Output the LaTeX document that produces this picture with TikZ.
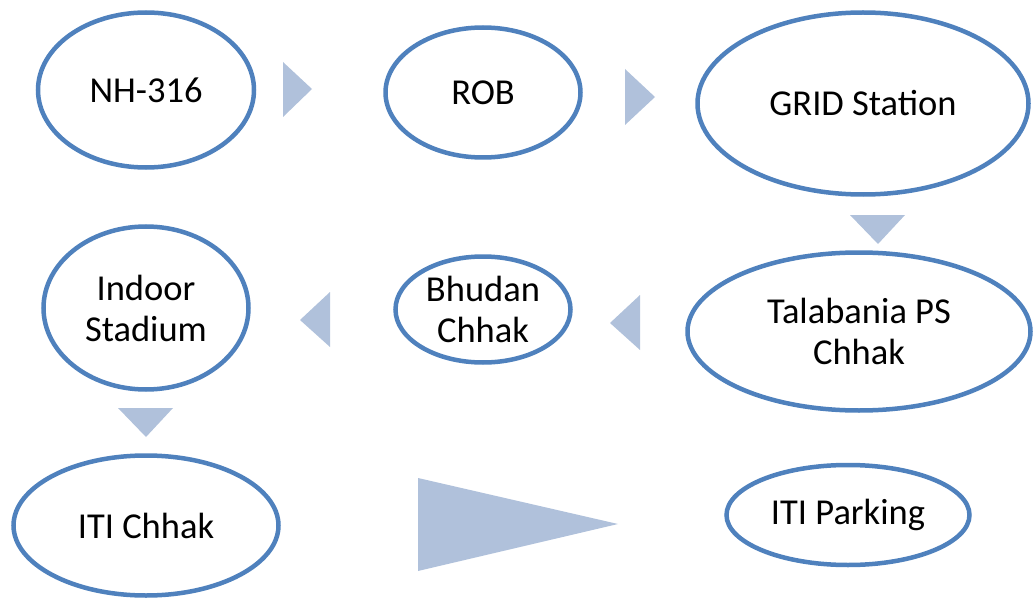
\documentclass[tikz,border=0pt]{standalone}
\usepackage{fontspec}
\setmainfont{Carlito}
\usepackage{tikz}
\usetikzlibrary{shapes.geometric}
\definecolor{ringblue}{RGB}{79,129,189}
\definecolor{trifill}{RGB}{176,193,219}

\begin{document}
\begin{tikzpicture}[x=1pt,y=-1pt,
    stopnode/.style={ellipse,draw=ringblue,line width=4.5pt,fill=white,inner sep=0pt,align=center,
      font=\fontsize{36.5}{41}\selectfont},
    tri/.style={fill=trifill,draw=none}]
                      \useasboundingbox (0,0) rectangle (1034,599);
                      \node[stopnode,minimum width=216pt,minimum height=155pt](nh)at(146,90){NH-316};
                      \node[stopnode,minimum width=195pt,minimum height=130pt](rob)at(483,92.5){ROB};
                      \node[stopnode,minimum width=331pt,minimum height=182pt](grid)at(863,103.5){GRID Station};
                      \node[stopnode,minimum width=343pt,minimum height=158pt](tala)at(859,331.5){Talabania PS\\Chhak};
                      \node[stopnode,minimum width=175pt,minimum height=106pt](bhud)at(483,309.5){Bhudan\\Chhak};
                      \node[stopnode,minimum width=205pt,minimum height=163pt](indoor)at(146,308){Indoor\\Stadium};
                      \node[stopnode,minimum width=265pt,minimum height=140pt](itic)at(146,525.5){ITI Chhak};
                      \node[stopnode,minimum width=243pt,minimum height=100pt](itip)at(848,515){ITI Parking};
                      % arrows between the stops
                      \fill[tri] (283,62) -- (283,117) -- (312,89) -- cycle;
                      \fill[tri] (625,69) -- (625,125) -- (655,97) -- cycle;
                      \fill[tri] (850,215) -- (905,215) -- (878,244) -- cycle;
                      \fill[tri] (640,295) -- (640,350) -- (610,323) -- cycle;
                      \fill[tri] (330,292) -- (330,347) -- (300,320) -- cycle;
                      \fill[tri] (118,408) -- (173,408) -- (146,437) -- cycle;
                      \fill[tri] (418,478) -- (418,571) -- (618,524) -- cycle;
                  \end{tikzpicture}
\end{document}
